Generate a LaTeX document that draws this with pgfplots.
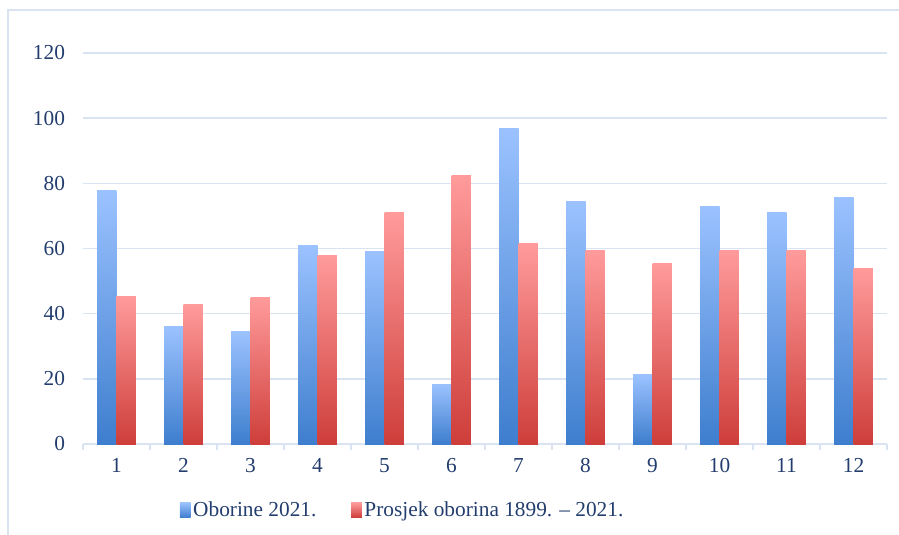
\documentclass[border=0pt]{standalone}
\usepackage{fontspec}
\setmainfont{Liberation Serif}
\usepackage{pgfplots}
\pgfplotsset{compat=1.18}
\definecolor{txt}{RGB}{35,62,110}
\definecolor{gridc}{RGB}{217,227,242}
\definecolor{btop}{RGB}{155,194,255}
\definecolor{bbot}{RGB}{62,126,206}
\definecolor{rtop}{RGB}{255,155,155}
\definecolor{rbot}{RGB}{206,62,58}
\begin{document}
\begin{tikzpicture}[x=0.75pt,y=0.75pt,font=\fontsize{16}{19}\selectfont]
\useasboundingbox (0,0) rectangle (899,-535);
\draw[gridc, line width=1.5pt] (8,-536) -- (8,-10) -- (900,-10);
\begin{axis}[
  at={(62.25pt,-333pt)}, anchor=south west,
  scale only axis, width=603pt, height=293.25pt,
  xmin=0.5, xmax=12.5, ymin=0, ymax=120,
  xtick={1,...,12}, ytick={0,20,...,120},
  minor xtick={0.5,1.5,...,12.5},
  axis lines*=left,
  y axis line style={draw=none},
  x axis line style={gridc, line width=1.1pt},
  ymajorgrids, grid style={gridc, line width=1.1pt},
  major tick length=0pt, minor tick length=4.5pt, tick align=outside,
  minor tick style={gridc, line width=1.1pt},
  /pgf/number format/assume math mode=true,
  ticklabel style={text=txt},
  yticklabel style={xshift=-10pt},
  xticklabel style={yshift=-7.5pt},
  B/.style={ybar, bar width=14.6pt, bar shift=-7.3pt, draw=none, top color=btop, bottom color=bbot, forget plot},
  R/.style={ybar, bar width=14.6pt, bar shift=7.3pt, draw=none, top color=rtop, bottom color=rbot, forget plot},
  legend columns=2,
  legend style={at={(0.398,-0.169)}, anchor=center, draw=none, fill=none,
    text=txt, /tikz/every even column/.append style={column sep=24pt}},
]
% Oborine 2021.
\addplot[B] coordinates {(1,77.7)};
\addplot[B] coordinates {(2,36.2)};
\addplot[B] coordinates {(3,34.4)};
\addplot[B] coordinates {(4,60.8)};
\addplot[B] coordinates {(5,59.0)};
\addplot[B] coordinates {(6,18.4)};
\addplot[B] coordinates {(7,96.7)};
\addplot[B] coordinates {(8,74.3)};
\addplot[B] coordinates {(9,21.2)};
\addplot[B] coordinates {(10,73.0)};
\addplot[B] coordinates {(11,71.2)};
\addplot[B] coordinates {(12,75.8)};
% Prosjek oborina 1899. - 2021.
\addplot[R] coordinates {(1,45.4)};
\addplot[R] coordinates {(2,42.7)};
\addplot[R] coordinates {(3,45.1)};
\addplot[R] coordinates {(4,57.7)};
\addplot[R] coordinates {(5,70.9)};
\addplot[R] coordinates {(6,82.3)};
\addplot[R] coordinates {(7,61.4)};
\addplot[R] coordinates {(8,59.5)};
\addplot[R] coordinates {(9,55.3)};
\addplot[R] coordinates {(10,59.5)};
\addplot[R] coordinates {(11,59.5)};
\addplot[R] coordinates {(12,54.0)};
\addlegendimage{legend image code/.code={\shade[draw=none,top color=btop,bottom color=bbot] (0pt,-5.5pt) rectangle (8pt,5.5pt);}}
\addlegendentry{Oborine 2021.}
\addlegendimage{legend image code/.code={\shade[draw=none,top color=rtop,bottom color=rbot] (0pt,-5.5pt) rectangle (8pt,5.5pt);}}
\addlegendentry{Prosjek oborina 1899. \textendash{} 2021.}
\end{axis}
\end{tikzpicture}
\end{document}
